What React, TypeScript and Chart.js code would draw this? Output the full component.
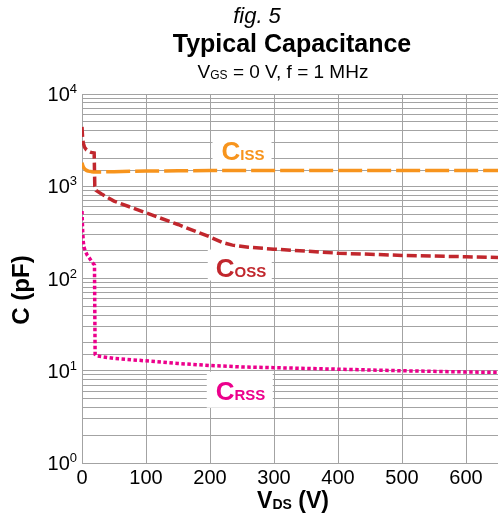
import React, { useEffect, useRef } from 'react';
import { Chart, registerables } from 'chart.js';
Chart.register(...registerables);

// ---- Data ----
const cissV = [0, 1, 3, 6, 10, 15, 20, 30, 50, 100, 150, 200, 300, 400, 500, 600, 650];
const cissC = [1800, 1700, 1580, 1500, 1460, 1440, 1430, 1430, 1440, 1460, 1470, 1480, 1480, 1480, 1480, 1480, 1480];

const cossV = [0, 1, 2, 4, 7, 10, 14, 19, 20, 22, 30, 50, 100, 150, 200, 220, 235, 260, 300, 350, 400, 450, 500, 550, 600, 650];
const cossC = [4400, 3300, 2950, 2650, 2480, 2400, 2330, 2300, 1000, 900, 830, 690, 515, 385, 282, 245, 230, 218, 208, 198, 188, 183, 178, 175, 172, 169];

const crssV = [0, 1, 2, 3, 5, 8, 12, 16, 19.5, 20.5, 22, 50, 100, 150, 200, 250, 300, 400, 500, 600, 650];
const crssC = [540, 330, 250, 220, 200, 180, 165, 150, 140, 15, 14.5, 13.6, 12.8, 12.0, 11.4, 11.0, 10.8, 10.4, 10.0, 9.7, 9.6];

const xTickValues = [0, 100, 200, 300, 400, 500, 600];
const yTickExponents = [0, 1, 2, 3, 4];

const COLOR_CISS = '#F7941D';
const COLOR_COSS = '#C1272D';
const COLOR_CRSS = '#EC008C';

const FONT = '"Liberation Sans", Arial, Helvetica, sans-serif';

type Part = { text: string; font: string; dy?: number };

function drawRich(ctx: CanvasRenderingContext2D, parts: Part[], x: number, y: number, align: 'left' | 'center' | 'right', color: string) {
  ctx.save();
  ctx.fillStyle = color;
  ctx.textBaseline = 'alphabetic';
  ctx.textAlign = 'left';
  let total = 0;
  const widths = parts.map((p) => {
    ctx.font = p.font;
    const w = ctx.measureText(p.text).width;
    total += w;
    return w;
  });
  let cx = align === 'left' ? x : align === 'center' ? x - total / 2 : x - total;
  parts.forEach((p, i) => {
    ctx.font = p.font;
    ctx.fillText(p.text, cx, y + (p.dy || 0));
    cx += widths[i];
  });
  ctx.restore();
  return total;
}

const curveLabels = [
  { main: 'C', sub: 'ISS', v: 218, c: 1930, color: COLOR_CISS, box: [-9, -28, 59, 35] },
  { main: 'C', sub: 'OSS', v: 209, c: 105, color: COLOR_COSS, box: [-8, -27, 64, 31] },
  { main: 'C', sub: 'RSS', v: 209, c: 4.85, color: COLOR_CRSS, box: [-9, -28, 66, 36] },
];

const textPlugin = {
  id: 'customText',
  beforeDatasetsDraw(chart: any) {
    const ctx: CanvasRenderingContext2D = chart.ctx;
    const xs = chart.scales.x;
    const ys = chart.scales.y;
    curveLabels.forEach((l) => {
      const px = xs.getPixelForValue(l.v);
      const py = ys.getPixelForValue(l.c);
      ctx.save();
      ctx.fillStyle = '#ffffff';
      ctx.fillRect(px + l.box[0], py + l.box[1], l.box[2], l.box[3]);
      ctx.restore();
      drawRich(ctx, [
        { text: l.main, font: `bold 26px ${FONT}` },
        { text: l.sub, font: `bold 15px ${FONT}` },
      ], px, py, 'left', l.color);
    });
  },
  afterDraw(chart: any) {
    const ctx: CanvasRenderingContext2D = chart.ctx;
    const xs = chart.scales.x;
    const ys = chart.scales.y;
    // titles
    drawRich(ctx, [{ text: 'fig. 5', font: `italic 22px ${FONT}` }], 257, 23, 'center', '#000');
    drawRich(ctx, [{ text: 'Typical Capacitance', font: `bold 25px ${FONT}` }], 292, 52, 'center', '#000');
    drawRich(ctx, [
      { text: 'V', font: `19px ${FONT}` },
      { text: 'GS', font: `12px ${FONT}`, dy: 1 },
      { text: ' = 0 V, f = 1 MHz', font: `19px ${FONT}` },
    ], 283, 78, 'center', '#000');
    // y tick labels
    yTickExponents.forEach((e) => {
      const py = ys.getPixelForValue(Math.pow(10, e));
      ctx.font = `13px ${FONT}`;
      const supW = ctx.measureText(String(e)).width;
      drawRich(ctx, [{ text: '10', font: `20px ${FONT}` }], 77 - supW, py + 7, 'right', '#000');
      drawRich(ctx, [{ text: String(e), font: `13px ${FONT}` }], 77, py - 1, 'right', '#000');
    });
    // x tick labels
    xTickValues.forEach((v) => {
      const px = xs.getPixelForValue(v);
      drawRich(ctx, [{ text: String(v), font: `20px ${FONT}` }], px, 484, 'center', '#000');
    });
    // x title
    drawRich(ctx, [
      { text: 'V', font: `bold 23px ${FONT}` },
      { text: 'DS', font: `bold 14px ${FONT}`, dy: 1 },
      { text: ' (V)', font: `bold 23px ${FONT}` },
    ], 293, 508, 'center', '#000');
    // y title
    ctx.save();
    ctx.translate(29, 290);
    ctx.rotate(-Math.PI / 2);
    drawRich(ctx, [{ text: 'C (pF)', font: `bold 24px ${FONT}` }], 0, 0, 'center', '#000');
    ctx.restore();
  },
};

function toPoints(xs: number[], ys: number[]) {
  return xs.map((x, i) => ({ x, y: ys[i] }));
}

export default function App() {
  const ref = useRef<HTMLCanvasElement | null>(null);
  useEffect(() => {
    document.body.style.margin = '0';
    const canvas = ref.current!;
    const chart = new Chart(canvas, {
      type: 'line',
      data: {
        datasets: [
          {
            label: 'Ciss',
            data: toPoints(cissV, cissC),
            borderColor: COLOR_CISS,
            borderWidth: 3.5,
            borderDash: [24, 5],
            pointRadius: 0,
            tension: 0.3,
            cubicInterpolationMode: 'monotone',
          },
          {
            label: 'Coss',
            data: toPoints(cossV, cossC),
            borderColor: COLOR_COSS,
            borderWidth: 3.5,
            borderDash: [10, 4],
            pointRadius: 0,
            tension: 0,
          },
          {
            label: 'Crss',
            data: toPoints(crssV, crssC),
            borderColor: COLOR_CRSS,
            borderWidth: 3.5,
            borderDash: [3.5, 2.5],
            pointRadius: 0,
            tension: 0,
          },
        ],
      },
      options: {
        animation: false,
        responsive: false,
        maintainAspectRatio: false,
        parsing: false as any,
        layout: { padding: { left: 82, right: 0, top: 94, bottom: 56 } },
        plugins: { legend: { display: false }, tooltip: { enabled: false }, title: { display: false } },
        scales: {
          x: {
            type: 'linear',
            min: 0,
            max: 650,
            ticks: { display: false, stepSize: 100 },
            grid: { color: '#a3a3a3', lineWidth: 1, drawTicks: false },
            border: { color: '#a3a3a3', width: 1 },
          },
          y: {
            type: 'logarithmic',
            min: 1,
            max: 10000,
            ticks: { display: false },
            grid: { color: '#a3a3a3', lineWidth: 1, drawTicks: false },
            border: { color: '#a3a3a3', width: 1 },
          },
        },
      },
      plugins: [textPlugin],
    });
    return () => chart.destroy();
  }, []);
  return (
    <div style={{ width: 498, height: 519, background: '#fff' }}>
      <canvas ref={ref} width={498} height={519} style={{ display: 'block', width: 498, height: 519 }} />
    </div>
  );
}
